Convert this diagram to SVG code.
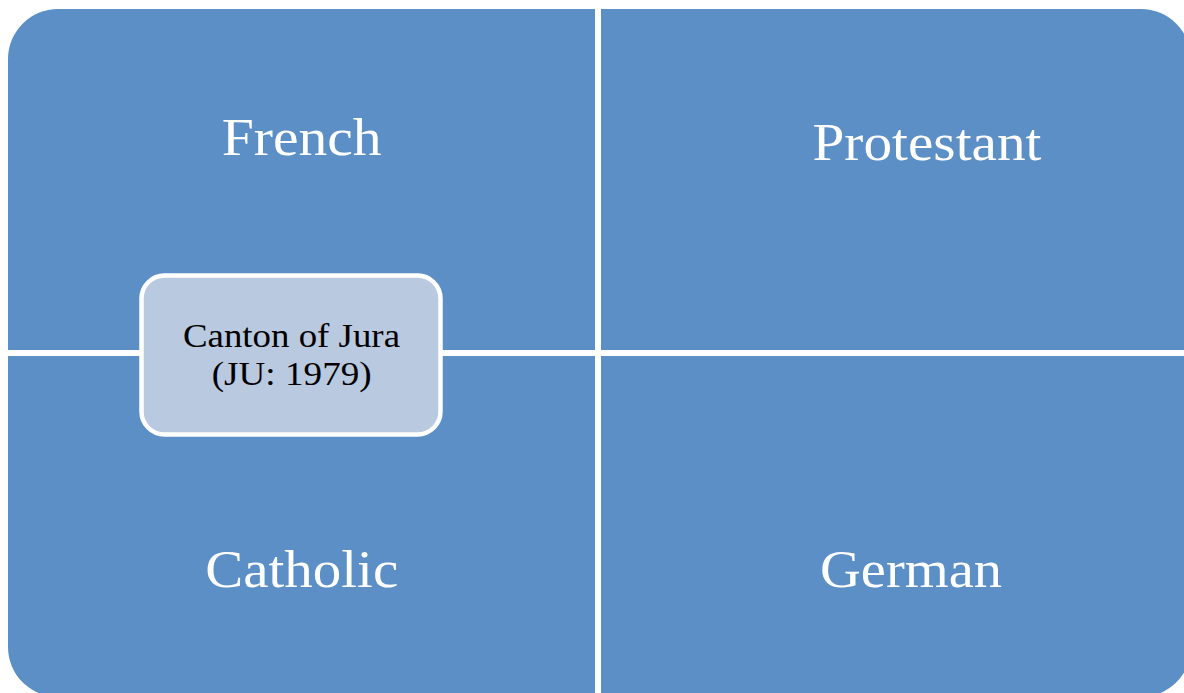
<svg xmlns="http://www.w3.org/2000/svg" width="1184" height="693" viewBox="0 0 1184 693">
  <style>
    .quad { fill: #5B8FC5; }
    .big { font-family: "Liberation Serif", "Times New Roman", serif; font-size: 52px; fill: #FFFFFF; text-anchor: middle; }
    .center-box { fill: #B9C9E0; stroke: #FFFFFF; stroke-width: 4.5; }
    .small { font-family: "Liberation Serif", "Times New Roman", serif; font-size: 33px; fill: #000000; text-anchor: middle; }
  </style>
  <rect x="0" y="0" width="1184" height="693" fill="#FFFFFF"/>
  <g id="quadrant-french">
    <path class="quad" d="M8,59 A50,50 0 0 1 58,9 L595,9 L595,350 L8,350 Z"/>
    <text class="big" x="301.7" y="155" textLength="160" lengthAdjust="spacingAndGlyphs">French</text>
  </g>
  <g id="quadrant-protestant">
    <path class="quad" d="M601,9 L1141,9 A50,50 0 0 1 1191,59 L1191,350 L601,350 Z"/>
    <text class="big" x="927" y="160" textLength="229" lengthAdjust="spacingAndGlyphs">Protestant</text>
  </g>
  <g id="quadrant-catholic">
    <path class="quad" d="M8,356 L595,356 L595,697 L58,697 A50,50 0 0 1 8,647 Z"/>
    <text class="big" x="301.7" y="586.7" textLength="193" lengthAdjust="spacingAndGlyphs">Catholic</text>
  </g>
  <g id="quadrant-german">
    <path class="quad" d="M601,356 L1191,356 L1191,647 A50,50 0 0 1 1141,697 L601,697 Z"/>
    <text class="big" x="911" y="587.3" textLength="182" lengthAdjust="spacingAndGlyphs">German</text>
  </g>
  <g id="canton-of-jura">
    <rect class="center-box" x="141.5" y="275.5" width="299" height="159" rx="23" ry="23"/>
    <text class="small" x="291.5" y="347" textLength="217" lengthAdjust="spacingAndGlyphs">Canton of Jura</text>
    <text class="small" x="291.7" y="385" textLength="160" lengthAdjust="spacingAndGlyphs">(JU: 1979)</text>
  </g>
  <g id="connectors"/>
</svg>
